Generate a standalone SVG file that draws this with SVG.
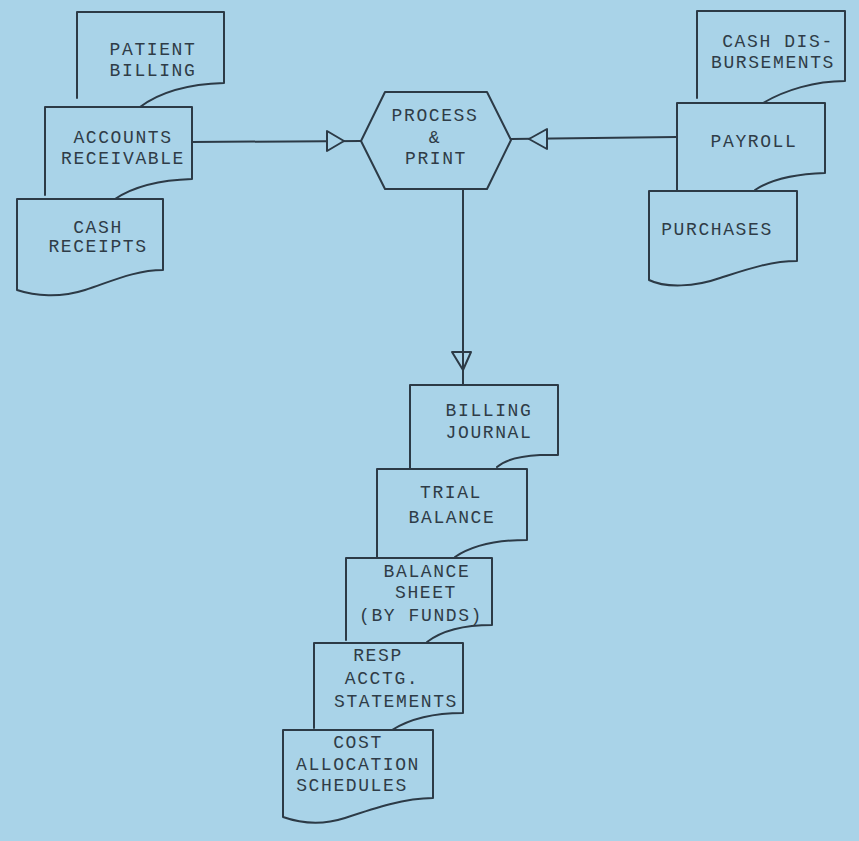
<svg xmlns="http://www.w3.org/2000/svg" width="859" height="841" viewBox="0 0 859 841">
<style>
.bg{fill:#a9d3e8}
.s{fill:none;stroke:#2c3a46;stroke-width:2;stroke-linejoin:round;stroke-linecap:round}
.sf{fill:#a9d3e8;stroke:#2c3a46;stroke-width:2;stroke-linejoin:round}
text{font-family:"Liberation Mono","DejaVu Sans Mono",monospace;font-size:18px;letter-spacing:1.6px;fill:#2f3c47;text-anchor:middle}
</style>
<rect class="bg" x="0" y="0" width="859" height="841"/>
<g id="connectors">
<line class="s" x1="192" y1="142" x2="361" y2="141"/>
<polygon class="sf" points="327,131 327,151 344,141"/>
<line class="s" x1="677" y1="137" x2="511" y2="139"/>
<polygon class="sf" points="547,129 547,149 529,139"/>
<line class="s" x1="463" y1="189" x2="463" y2="385"/>
<polygon class="s" points="452,352 471,352 463,370"/>
</g>
<g id="patient-billing">
<path class="s" d="M77,98 V12 H224 V83 C190,84 160,92 140,107"/>
<text x="153" y="55">PATIENT</text>
<text x="153" y="76">BILLING</text>
</g>
<g id="accounts-receivable">
<path class="s" d="M45,195 V107 H192 V179 C160,180 133,187 115,199"/>
<text x="123" y="143">ACCOUNTS</text>
<text x="123" y="164">RECEIVABLE</text>
</g>
<g id="cash-receipts">
<path class="s" d="M17,290 V199 H163 V270 C135,270 110,282 85,290 C60,298 35,296 17,290 Z"/>
<text x="98" y="233">CASH</text>
<text x="98" y="252">RECEIPTS</text>
</g>
<g id="process-print">
<polygon class="s" points="385,92 487,92 511,140 487,189 385,189 361,141"/>
<text x="435" y="121">PROCESS</text>
<text x="435" y="143">&amp;</text>
<text x="436" y="164">PRINT</text>
</g>
<g id="cash-disbursements">
<path class="s" d="M697,98 V11 H845 V81 C815,81 785,90 763,103"/>
<text x="778" y="47">CASH DIS-</text>
<text x="773" y="68">BURSEMENTS</text>
</g>
<g id="payroll">
<path class="s" d="M677,190 V103 H825 V173 C795,174 770,180 755,190"/>
<text x="754" y="147">PAYROLL</text>
</g>
<g id="purchases">
<path class="s" d="M649,280 V191 H797 V261 C770,261 745,270 720,278 C695,287 665,288 649,280 Z"/>
<text x="717" y="235">PURCHASES</text>
</g>
<g id="billing-journal">
<path class="s" d="M410,469 V385 H558 V455 H540 C520,456 505,460 497,467"/>
<text x="489" y="416">BILLING</text>
<text x="489" y="438">JOURNAL</text>
</g>
<g id="trial-balance">
<path class="s" d="M377,557 V469 H527 V540 C495,540 470,547 455,557"/>
<text x="451" y="498">TRIAL</text>
<text x="452" y="523">BALANCE</text>
</g>
<g id="balance-sheet">
<path class="s" d="M346,640 V558 H492 V625 C460,625 440,632 427,642"/>
<text x="427" y="577">BALANCE</text>
<text x="426" y="598">SHEET</text>
<text x="421" y="621">(BY FUNDS)</text>
</g>
<g id="resp-acctg-statements">
<path class="s" d="M314,728 V643 H463 V713 C430,713 408,720 392,730"/>
<text x="378" y="661">RESP</text>
<text x="382" y="684">ACCTG.</text>
<text x="396" y="707">STATEMENTS</text>
</g>
<g id="cost-allocation-schedules">
<path class="s" d="M283,817 V730 H433 V798 C405,798 375,808 345,818 C320,826 300,823 283,817 Z"/>
<text x="358" y="748">COST</text>
<text x="358" y="770">ALLOCATION</text>
<text x="352" y="791">SCHEDULES</text>
</g>
</svg>
